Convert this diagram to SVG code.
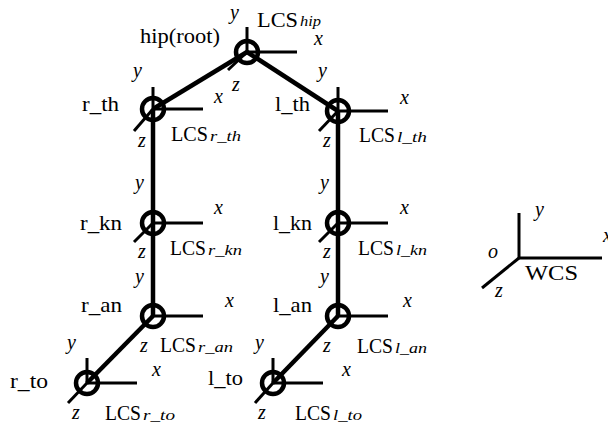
<svg xmlns="http://www.w3.org/2000/svg" width="616" height="425" viewBox="0 0 616 425">
<style>
.bg{fill:#fff}
.limb{stroke:#000;stroke-width:4.5;fill:none;stroke-linecap:butt}
.ax{stroke:#000;stroke-width:3;fill:none}
.jt{stroke:#000;stroke-width:4.5;fill:none}
text{font-family:'Liberation Serif','Times New Roman',Tinos,'Noto Serif','DejaVu Serif',serif;fill:#000}
.t{font-size:21px}
.i{font-size:20px;font-style:italic}
.s{font-size:14px;font-style:italic}
</style>
<defs>
<clipPath id="edge"><rect x="0" y="0" width="608" height="425"/></clipPath>
</defs>
<rect class="bg" x="0" y="0" width="616" height="425"/>
<g id="connectors">
<line class="limb" x1="247" y1="52" x2="153" y2="109"/>
<line class="limb" x1="247" y1="52" x2="338" y2="111"/>
<line class="limb" x1="153" y1="109" x2="153" y2="223"/>
<line class="limb" x1="153" y1="223" x2="153" y2="316"/>
<line class="limb" x1="338" y1="111" x2="338" y2="223"/>
<line class="limb" x1="338" y1="223" x2="338" y2="316"/>
<line class="limb" x1="153" y1="316" x2="87" y2="383"/>
<line class="limb" x1="338" y1="316" x2="273" y2="383"/>
</g>
<g id="hip">
<line class="ax" x1="247" y1="27" x2="247" y2="52"/>
<line class="ax" x1="247" y1="52" x2="297" y2="52"/>
<line class="ax" x1="247" y1="52" x2="228" y2="70"/>
<circle class="jt" cx="247" cy="52" r="11"/>
<text class="t" x="140" y="43" textLength="80" lengthAdjust="spacingAndGlyphs">hip(root)</text>
<text class="i" x="230" y="19">y</text>
<text class="i" x="314" y="45">x</text>
<text class="i" x="232" y="91">z</text>
<text class="t" x="257" y="27" textLength="41" lengthAdjust="spacingAndGlyphs">LCS</text>
<text class="s" x="300" y="26" textLength="21" lengthAdjust="spacingAndGlyphs">hip</text>
</g>
<g id="r_th">
<line class="ax" x1="153" y1="87" x2="153" y2="109"/>
<line class="ax" x1="153" y1="109" x2="203" y2="109"/>
<line class="ax" x1="153" y1="109" x2="134" y2="131"/>
<circle class="jt" cx="153" cy="109" r="11"/>
<text class="t" x="82" y="111" textLength="37" lengthAdjust="spacingAndGlyphs">r_th</text>
<text class="i" x="133" y="77">y</text>
<text class="i" x="214" y="103">x</text>
<text class="i" x="138" y="147">z</text>
<text class="t" x="171" y="141" textLength="37" lengthAdjust="spacingAndGlyphs">LCS</text>
<text class="s" x="210" y="141" textLength="31" lengthAdjust="spacingAndGlyphs">r_th</text>
</g>
<g id="l_th">
<line class="ax" x1="338" y1="87" x2="338" y2="111"/>
<line class="ax" x1="338" y1="111" x2="388" y2="111"/>
<line class="ax" x1="338" y1="111" x2="319" y2="131"/>
<circle class="jt" cx="338" cy="111" r="11"/>
<text class="t" x="275" y="111" textLength="35" lengthAdjust="spacingAndGlyphs">l_th</text>
<text class="i" x="318" y="77">y</text>
<text class="i" x="400" y="104">x</text>
<text class="i" x="323" y="147">z</text>
<text class="t" x="359" y="142" textLength="36" lengthAdjust="spacingAndGlyphs">LCS</text>
<text class="s" x="397" y="142" textLength="30" lengthAdjust="spacingAndGlyphs">l_th</text>
</g>
<g id="r_kn">
<line class="ax" x1="153" y1="223" x2="203" y2="223"/>
<line class="ax" x1="153" y1="223" x2="134" y2="242"/>
<circle class="jt" cx="153" cy="223" r="11"/>
<text class="t" x="80" y="230" textLength="42" lengthAdjust="spacingAndGlyphs">r_kn</text>
<text class="i" x="135" y="189">y</text>
<text class="i" x="214" y="214">x</text>
<text class="i" x="138" y="258">z</text>
<text class="t" x="170" y="255" textLength="36" lengthAdjust="spacingAndGlyphs">LCS</text>
<text class="s" x="208" y="255" textLength="34" lengthAdjust="spacingAndGlyphs">r_kn</text>
</g>
<g id="l_kn">
<line class="ax" x1="338" y1="223" x2="388" y2="223"/>
<line class="ax" x1="338" y1="223" x2="319" y2="242"/>
<circle class="jt" cx="338" cy="223" r="11"/>
<text class="t" x="273" y="230" textLength="39" lengthAdjust="spacingAndGlyphs">l_kn</text>
<text class="i" x="320" y="189">y</text>
<text class="i" x="400" y="214">x</text>
<text class="i" x="323" y="258">z</text>
<text class="t" x="358" y="255" textLength="36" lengthAdjust="spacingAndGlyphs">LCS</text>
<text class="s" x="396" y="255" textLength="31" lengthAdjust="spacingAndGlyphs">l_kn</text>
</g>
<g id="r_an">
<line class="ax" x1="153" y1="316" x2="203" y2="316"/>
<circle class="jt" cx="153" cy="316" r="11"/>
<text class="t" x="81" y="312" textLength="41" lengthAdjust="spacingAndGlyphs">r_an</text>
<text class="i" x="135" y="283">y</text>
<text class="i" x="225" y="307">x</text>
<text class="i" x="140" y="352">z</text>
<text class="t" x="160" y="352" textLength="36" lengthAdjust="spacingAndGlyphs">LCS</text>
<text class="s" x="198" y="352" textLength="35" lengthAdjust="spacingAndGlyphs">r_an</text>
</g>
<g id="l_an">
<line class="ax" x1="338" y1="316" x2="388" y2="316"/>
<circle class="jt" cx="338" cy="316" r="11"/>
<text class="t" x="273" y="312" textLength="39" lengthAdjust="spacingAndGlyphs">l_an</text>
<text class="i" x="320" y="283">y</text>
<text class="i" x="403" y="307">x</text>
<text class="i" x="323" y="352">z</text>
<text class="t" x="357" y="353" textLength="36" lengthAdjust="spacingAndGlyphs">LCS</text>
<text class="s" x="395" y="353" textLength="32" lengthAdjust="spacingAndGlyphs">l_an</text>
</g>
<g id="r_to">
<line class="ax" x1="87" y1="358" x2="87" y2="383"/>
<line class="ax" x1="87" y1="383" x2="137" y2="383"/>
<line class="ax" x1="87" y1="383" x2="68" y2="403"/>
<circle class="jt" cx="87" cy="383" r="11"/>
<text class="t" x="10" y="388" textLength="38" lengthAdjust="spacingAndGlyphs">r_to</text>
<text class="i" x="67" y="349">y</text>
<text class="i" x="152" y="376">x</text>
<text class="i" x="72" y="419">z</text>
<text class="t" x="105" y="420" textLength="36" lengthAdjust="spacingAndGlyphs">LCS</text>
<text class="s" x="143" y="420" textLength="32" lengthAdjust="spacingAndGlyphs">r_to</text>
</g>
<g id="l_to">
<line class="ax" x1="273" y1="358" x2="273" y2="383"/>
<line class="ax" x1="273" y1="383" x2="323" y2="383"/>
<line class="ax" x1="273" y1="383" x2="255" y2="403"/>
<circle class="jt" cx="273" cy="383" r="11"/>
<text class="t" x="208" y="385" textLength="35" lengthAdjust="spacingAndGlyphs">l_to</text>
<text class="i" x="255" y="349">y</text>
<text class="i" x="342" y="376">x</text>
<text class="i" x="258" y="419">z</text>
<text class="t" x="295" y="420" textLength="36" lengthAdjust="spacingAndGlyphs">LCS</text>
<text class="s" x="333" y="420" textLength="29" lengthAdjust="spacingAndGlyphs">l_to</text>
</g>
<g id="WCS">
<line class="ax" x1="519" y1="213" x2="519" y2="258"/>
<line class="ax" x1="519" y1="258" x2="602" y2="258"/>
<line class="ax" x1="519" y1="258" x2="482" y2="288"/>
<text class="i" x="535" y="216">y</text>
<text class="i" x="603" y="242" clip-path="url(#edge)">x</text>
<text class="i" x="488" y="258">o</text>
<text class="i" x="495" y="297">z</text>
<text class="t" x="525" y="280" textLength="53" lengthAdjust="spacingAndGlyphs">WCS</text>
</g>
</svg>
